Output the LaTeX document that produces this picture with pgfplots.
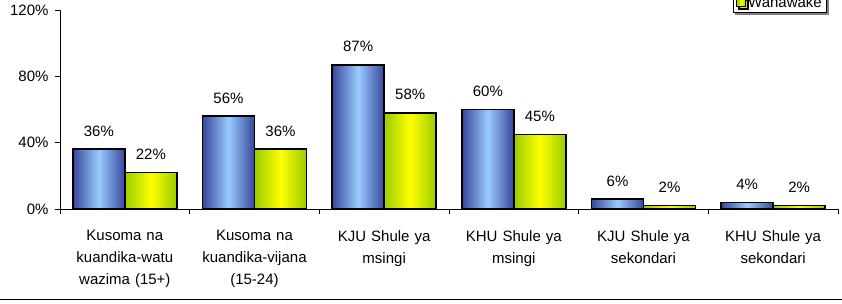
\documentclass[border=0pt]{standalone}
\usepackage{pgfplots}
\pgfplotsset{compat=1.18}
\usepackage{fontspec}
\setmainfont{Liberation Sans}
\usetikzlibrary{shadows}
\definecolor{bEdge}{RGB}{55,70,155}
\definecolor{bMid}{RGB}{153,204,255}
\definecolor{yEdge}{RGB}{153,204,0}
\definecolor{yMid}{RGB}{255,255,0}
\pgfplotsset{
  bluebar/.style={ybar, bar width=52pt, bar shift=-26pt, draw=black, line width=1.6pt,
    shade, shading=axis, left color=bEdge, right color=bEdge, middle color=bMid, shading angle=90,
    every node near coord/.append style={xshift=-26pt}},
  yellowbar/.style={ybar, bar width=52pt, bar shift=26pt, draw=black, line width=1.6pt,
    shade, shading=axis, left color=yEdge, right color=yEdge, middle color=yMid, shading angle=90,
    every node near coord/.append style={xshift=26pt}},
}
\begin{document}
\begin{tikzpicture}[x=1pt,y=1pt]
\begin{axis}[
  at={(60pt,95pt)}, anchor=south west,
  scale only axis, width=778pt, height=199pt,
  xmin=-0.5, xmax=5.5, ymin=0, ymax=120,
  axis x line*=bottom, axis y line*=left,
  axis line style={-, line width=0.8pt},
  /pgf/number format/assume math mode=true,
  ytick={0,40,80,120},
  yticklabel={\pgfmathprintnumber{\tick}\%},
  xtick={-0.5,0.5,...,5.5},
  x tick label as interval,
  xticklabels={{Kusoma na\\kuandika-watu\\wazima (15+)},{Kusoma na\\kuandika-vijana\\(15-24)},{KJU Shule ya\\msingi},{KHU Shule ya\\msingi},{KJU Shule ya\\sekondari},{KHU Shule ya\\sekondari}},
  tick align=outside, major tick length=5pt,
  tick style={line width=0.8pt, black},
  tick label style={font=\fontsize{15}{21.7}\selectfont},
  xticklabel style={text width=128pt, align=center, yshift=-13pt},
  yticklabel style={xshift=-3pt},
  nodes near coords={\pgfmathprintnumber{\pgfplotspointmeta}\%},
  every node near coord/.append style={font=\fontsize{15}{18}\selectfont, anchor=base, yshift=13pt, black},
  legend style={at={(0.865,0.985)}, anchor=south west, draw=black, line width=0.8pt,
    font=\fontsize{15}{18}\selectfont, drop shadow={shadow xshift=2pt, shadow yshift=-2pt, fill=gray, opacity=1},
    legend cell align=left, fill=white},
  legend image code/.code={\draw[#1, line width=0.8pt] (0pt,-4.5pt) rectangle (9pt,4.5pt);},
]
% Wanaume (blue)
\addplot[bluebar] coordinates {(0,36)};
\addlegendentry{Wanaume}
\addplot[bluebar, forget plot] coordinates {(1,56)};
\addplot[bluebar, forget plot] coordinates {(2,87)};
\addplot[bluebar, forget plot] coordinates {(3,60)};
\addplot[bluebar, forget plot] coordinates {(4,6)};
\addplot[bluebar, forget plot] coordinates {(5,4)};
% Wanawake (yellow)
\addplot[yellowbar] coordinates {(0,22)};
\addlegendentry{Wanawake}
\addplot[yellowbar, forget plot] coordinates {(1,36)};
\addplot[yellowbar, forget plot] coordinates {(2,58)};
\addplot[yellowbar, forget plot] coordinates {(3,45)};
\addplot[yellowbar, forget plot] coordinates {(4,2)};
\addplot[yellowbar, forget plot] coordinates {(5,2)};
\end{axis}
\draw[line width=1.5pt] (0,4.5) -- (842,4.5);
\pgfresetboundingbox
\path (0,0) rectangle (842,304);
\end{tikzpicture}
\end{document}
